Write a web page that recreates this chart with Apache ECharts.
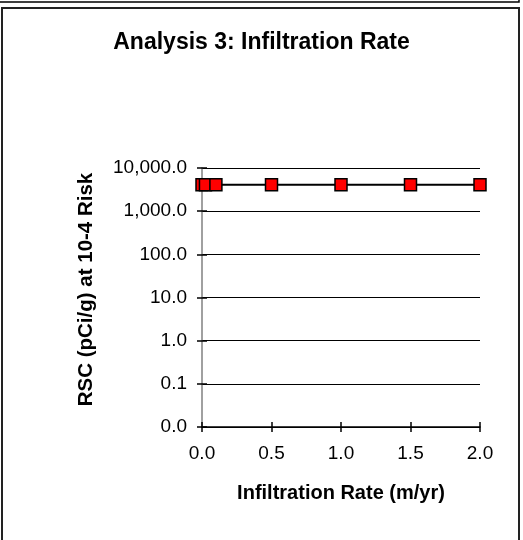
<!DOCTYPE html>
<html>
<head>
<meta charset="utf-8">
<script src="https://cdn.jsdelivr.net/npm/echarts@6/dist/echarts.min.js"></script>
<style>html,body{margin:0;padding:0;background:#fff}#c{width:523px;height:540px}</style>
</head>
<body>
<div id="c"></div>
<script>
const infiltrationRate = [0, 0.025, 0.1, 0.5, 1.0, 1.5, 2.0];
const rscValues = [4100, 4100, 4100, 4100, 4100, 4100, 4100];
const xTicks = [0, 0.5, 1.0, 1.5, 2.0];
const yTicks = [0.01, 0.1, 1, 10, 100, 1000, 10000];
const titleText = 'Analysis 3: Infiltration Rate';
const xName = 'Infiltration Rate (m/yr)';
const yName = 'RSC (pCi/g) at 10-4 Risk';

const font = 'Liberation Sans, Arial, sans-serif';
const chart = echarts.init(document.getElementById('c'), null, {renderer: 'canvas'});
const fmtY = v => Number(v).toLocaleString('en-US', {minimumFractionDigits: 1, maximumFractionDigits: 1});
const xAxisBase = {
  type: 'value', min: xTicks[0], max: xTicks[xTicks.length - 1], interval: 0.5,
  position: 'bottom', splitLine: {show: false}
};
const yAxisBase = {
  type: 'log', logBase: 10, min: yTicks[0], max: yTicks[yTicks.length - 1],
  position: 'left'
};
chart.setOption({
  animation: false,
  backgroundColor: '#fff',
  title: {
    text: titleText, left: 'center', top: 26,
    textStyle: {fontFamily: font, fontSize: 23, fontWeight: 'bold', color: '#000'}
  },
  grid: {left: 202, right: 43, top: 168, bottom: 113, containLabel: false},
  xAxis: [
    Object.assign({}, xAxisBase, {
      name: xName, nameLocation: 'middle', nameGap: 56,
      nameTextStyle: {fontFamily: font, fontSize: 20, fontWeight: 'bold', color: '#000'},
      axisLine: {show: true, lineStyle: {color: '#000', width: 1.5}},
      axisTick: {show: true, inside: false, length: 5, lineStyle: {color: '#000', width: 1.5}},
      axisLabel: {fontFamily: font, fontSize: 19, color: '#000', margin: 17, formatter: v => v.toFixed(1)}
    }),
    Object.assign({}, xAxisBase, {
      axisLine: {show: false},
      axisTick: {show: true, inside: true, length: 5, lineStyle: {color: '#000', width: 1.5}},
      axisLabel: {show: false}
    })
  ],
  yAxis: [
    Object.assign({}, yAxisBase, {
      name: yName, nameLocation: 'middle', nameGap: 105, nameRotate: 90,
      nameTextStyle: {fontFamily: font, fontSize: 20.5, fontWeight: 'bold', color: '#000', padding: [0, 0, 0, 16]},
      axisLine: {show: true, lineStyle: {color: '#808080', width: 1.5}},
      axisTick: {show: true, inside: false, length: 5, lineStyle: {color: '#000', width: 1.5}},
      axisLabel: {fontFamily: font, fontSize: 19, color: '#000', margin: 15, formatter: fmtY},
      splitLine: {show: true, lineStyle: {color: '#000', width: 1.2}}
    }),
    Object.assign({}, yAxisBase, {
      axisLine: {show: false},
      axisTick: {show: true, inside: true, length: 5, lineStyle: {color: '#000', width: 1.5}},
      axisLabel: {show: false},
      splitLine: {show: false}
    })
  ],
  series: [{
    type: 'line', xAxisIndex: 0, yAxisIndex: 0,
    data: infiltrationRate.map((x, i) => [x, rscValues[i]]),
    lineStyle: {color: '#000', width: 2},
    symbol: 'rect', symbolSize: 12,
    itemStyle: {color: '#ff0000', borderColor: '#000', borderWidth: 1.5},
    z: 5
  }],
  graphic: [
    {type: 'polyline', shape: {points: [[0, 2], [519, 2], [519, -2]]}, style: {stroke: '#000', lineWidth: 1.5, fill: null}},
    {type: 'polyline', shape: {points: [[2, 545], [2, 8], [519, 8], [519, 545]]}, style: {stroke: '#222', lineWidth: 2, fill: null}}
  ]
});
</script>
</body>
</html>
